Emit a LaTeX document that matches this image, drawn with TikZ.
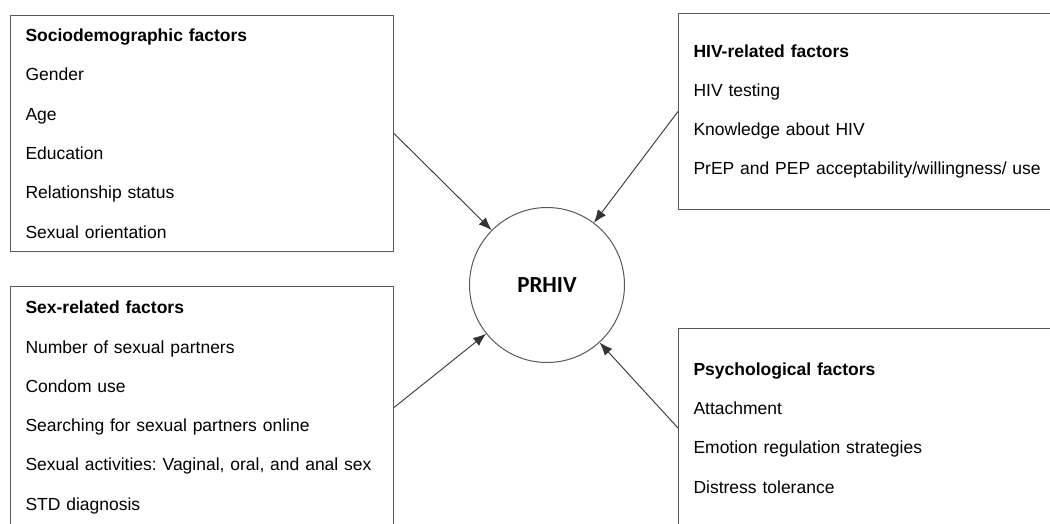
\documentclass[tikz,border=0pt]{standalone}
\usepackage{fontspec}
\setmainfont{Liberation Sans}
\newfontfamily\calfont{Carlito}
\usetikzlibrary{arrows.meta}
\frenchspacing

\begin{document}
\begin{tikzpicture}[
            x = 1pt, y = -1pt,
            factorbox/.style = {draw = black!65, line width = 1pt, rectangle, anchor = north west,
                inner xsep = 15pt, inner ysep = 0pt, align = left,
                font = \fontsize{17.5}{39.3}\selectfont},
            hub/.style = {draw = black!65, line width = 1pt, circle, minimum size = 155pt,
                font = \calfont\bfseries\fontsize{23}{26}\selectfont},
            edge/.style = {draw = black!80, line width = 0.9pt, -{Latex[length=13pt, width=10pt]}}
        ]
        \useasboundingbox (0,0) rectangle (1050,523);

        \node[factorbox, text width = 353pt, minimum height = 236pt] (socio) at (10,15)
            {\textbf{Sociodemographic factors}\\ Gender\\ Age\\ Education\\ Relationship status\\ Sexual orientation};
        \node[factorbox, text width = 353pt, minimum height = 242pt] (sex) at (10,286)
            {\textbf{Sex-related factors}\\ Number of sexual partners\\ Condom use\\ Searching for sexual partners online\\ Sexual activities: Vaginal, oral, and anal sex\\ STD diagnosis};
        \node[factorbox, text width = 360pt, minimum height = 196pt] (hiv) at (678,13)
            {\textbf{HIV-related factors}\\ HIV testing\\ Knowledge about HIV\\ PrEP and PEP acceptability/willingness/ use};
        \node[factorbox, text width = 360pt, minimum height = 199pt] (psych) at (678,328)
            {\textbf{Psychological factors}\\ Attachment\\ Emotion regulation strategies\\ Distress tolerance};

        \node[hub] (prhiv) at (547,285) {PRHIV};

        \draw[edge] (socio.east) -- (prhiv);
        \draw[edge] (hiv.west) -- (prhiv);
        \draw[edge] (sex.east) -- (prhiv);
        \draw[edge] (psych.west) -- (prhiv);
    \end{tikzpicture}
\end{document}
